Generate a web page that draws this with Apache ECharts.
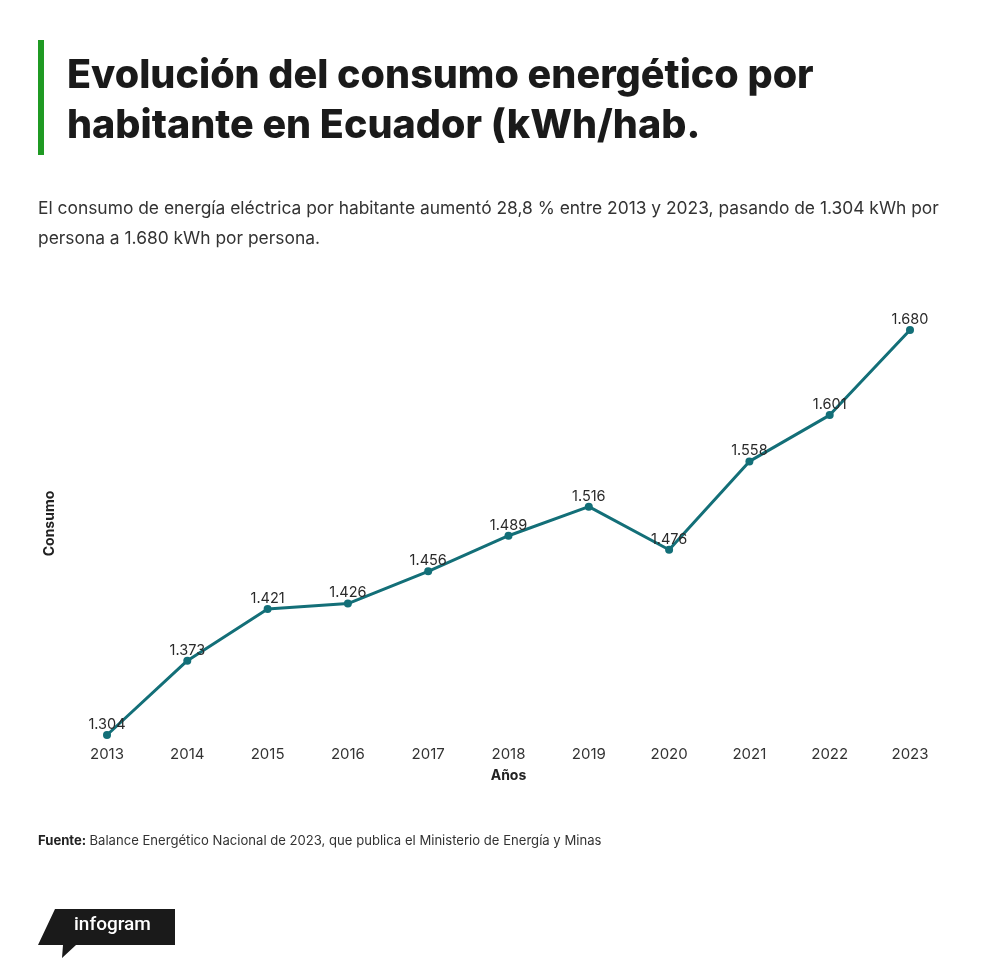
<!DOCTYPE html>
<html>
<head>
<meta charset="utf-8">
<script src="https://cdn.jsdelivr.net/npm/echarts@6/dist/echarts.min.js"></script>
<style>
html,body{margin:0;padding:0;background:#fff;}
#chart{width:1000px;height:978px;}
</style>
</head>
<body>
<div id="chart"></div>
<script>
const years = ['2013','2014','2015','2016','2017','2018','2019','2020','2021','2022','2023'];
const consumo = [1304, 1373, 1421, 1426, 1456, 1489, 1516, 1476, 1558, 1601, 1680];

const titleLines = ['Evolución del consumo energético por', 'habitante en Ecuador (kWh/hab.'];
const subtitleLines = [
  'El consumo de energía eléctrica por habitante aumentó 28,8 % entre 2013 y 2023, pasando de 1.304 kWh por',
  'persona a 1.680 kWh por persona.'
];
const sourceLabel = 'Fuente:';
const sourceText = 'Balance Energético Nacional de 2023, que publica el Ministerio de Energía y Minas';

function fmt(v){
  return String(v).replace(/\B(?=(\d{3})+(?!\d))/g, '.');
}

const chart = echarts.init(document.getElementById('chart'));
const FONT = 'Inter, Roboto, "Noto Sans", sans-serif';

chart.setOption({
  backgroundColor: '#ffffff',
  textStyle: { fontFamily: FONT },
  grid: { left: 107, right: 90, top: 330, bottom: 243, outerBoundsMode: 'none' },
  xAxis: {
    type: 'category',
    data: years,
    boundaryGap: false,
    axisLine: { show: false },
    axisTick: { show: false },
    axisLabel: { color: '#333', fontSize: 15, margin: 12, fontFamily: FONT },
    name: 'Años',
    nameLocation: 'middle',
    nameGap: 34,
    nameTextStyle: { color: '#222', fontSize: 14, fontWeight: 'bold', fontFamily: FONT }
  },
  yAxis: {
    type: 'value',
    min: 'dataMin',
    max: 'dataMax',
    axisLine: { show: false },
    axisTick: { show: false },
    axisLabel: { show: false },
    splitLine: { show: false },
    name: 'Consumo',
    nameLocation: 'middle',
    nameGap: 50,
    nameTextStyle: { color: '#222', fontSize: 14, fontWeight: 'bold', fontFamily: FONT, padding: [0, 0, 0, 18] }
  },
  series: [{
    type: 'line',
    data: consumo,
    symbol: 'circle',
    symbolSize: 8,
    lineStyle: { color: '#136f78', width: 3 },
    itemStyle: { color: '#136f78' },
    label: {
      show: true,
      position: 'top',
      distance: -1,
      color: '#2a2a2a',
      fontSize: 14.5,
      fontFamily: FONT,
      formatter: p => fmt(p.value)
    },
    z: 3
  }],
  graphic: [
    { type: 'rect', shape: { x: 38, y: 40, width: 6, height: 115 }, style: { fill: '#1f9a23' } },
    { type: 'text', left: 67, top: 56, style: { text: titleLines[0], font: '800 39.5px ' + FONT, fill: '#1a1a1a' } },
    { type: 'text', left: 67, top: 106, style: { text: titleLines[1], font: '800 39.5px ' + FONT, fill: '#1a1a1a' } },
    { type: 'text', left: 38, top: 200, style: { text: subtitleLines[0], font: '17.4px ' + FONT, fill: '#333' } },
    { type: 'text', left: 38, top: 230, style: { text: subtitleLines[1], font: '17.4px ' + FONT, fill: '#333' } },
    { type: 'text', left: 38, top: 835, style: {
        text: '{b|' + sourceLabel + '} {r|' + sourceText + '}',
        rich: {
          b: { fontFamily: FONT, fontSize: 13.1, fontWeight: 'bold', fill: '#222', color: '#222' },
          r: { fontFamily: FONT, fontSize: 13.1, fill: '#333', color: '#333' }
        }
      } },
    { type: 'polygon', shape: { points: [[55,909],[175,909],[175,945],[76,945],[62,958],[63,945],[38,945]] }, style: { fill: '#1a1a1a' } },
    { type: 'text', left: 74, top: 916, style: { text: 'infogram', font: '500 19px Roboto, sans-serif', fill: '#ffffff' } }
  ]
});
</script>
</body>
</html>
